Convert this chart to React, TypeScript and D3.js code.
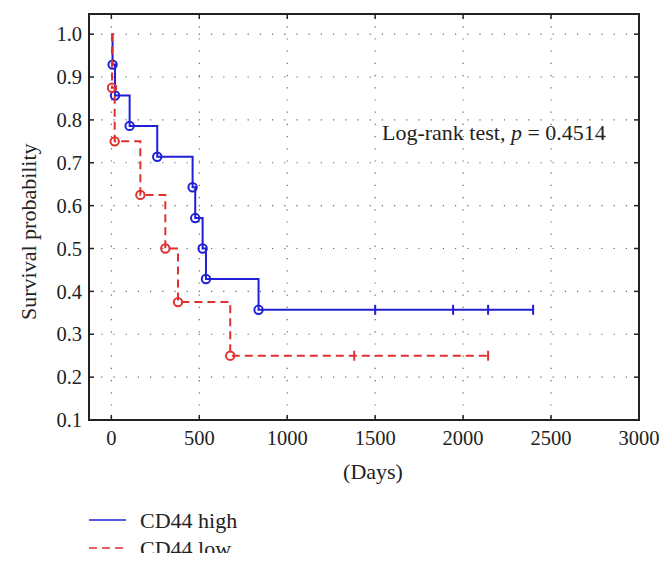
import React from 'react';
import * as d3 from 'd3';

// Kaplan-Meier steps
const highTimes = [0, 7, 21, 104, 261, 462, 477, 519, 538, 837];
const highSurv = [1.0, 0.929, 0.857, 0.786, 0.714, 0.643, 0.571, 0.5, 0.429, 0.357];
const highCensor = [1500, 1943, 2142, 2398];

const lowTimes = [0, 4, 19, 165, 307, 379, 676];
const lowSurv = [1.0, 0.875, 0.75, 0.625, 0.5, 0.375, 0.25];
const lowCensor = [1381, 2142];

const xTicks = [0, 500, 1000, 1500, 2000, 2500, 3000];
const yTicks = [0.1, 0.2, 0.3, 0.4, 0.5, 0.6, 0.7, 0.8, 0.9, 1.0];

const series = [
  { name: 'CD44 high', times: highTimes, surv: highSurv, censor: highCensor, color: '#1f1fd6', dash: null as string | null },
  { name: 'CD44 low', times: lowTimes, surv: lowSurv, censor: lowCensor, color: '#e03131', dash: '8,5' },
];

const W = 672;
const H = 569;
const left = 89;
const right = 639;
const top = 14;
const bottom = 420;
const font = '"Liberation Serif", "DejaVu Serif", serif';

const App: React.FC = () => {
  const x = d3.scaleLinear().domain([-127, 3000]).range([left, right]);
  const y = d3.scaleLinear().domain([0.1, 1.047]).range([bottom, top]);

  const line = d3
    .line<[number, number]>()
    .x(d => x(d[0]))
    .y(d => y(d[1]))
    .curve(d3.curveStepAfter);

  return (
    <svg
      width={W}
      height={H}
      style={{ position: 'absolute', left: 0, top: 0, background: '#fff' }}
      fontFamily={font}
    >
      {/* dotted grid */}
      {xTicks.slice(0, -1).map(t => (
        <line key={'gx' + t} x1={x(t)} x2={x(t)} y1={top} y2={bottom}
          stroke="#666" strokeWidth={1.2} strokeDasharray="1.2,11" />
      ))}
      {yTicks.slice(1).map(t => (
        <line key={'gy' + t} x1={left} x2={right} y1={y(t)} y2={y(t)}
          stroke="#666" strokeWidth={1.2} strokeDasharray="1.2,11" />
      ))}

      {/* curves */}
      {series.map(s => {
        const last = s.censor[s.censor.length - 1];
        const pts: [number, number][] = s.times.map((t, i) => [t, s.surv[i]] as [number, number]);
        pts.push([last, s.surv[s.surv.length - 1]]);
        const level = s.surv[s.surv.length - 1];
        return (
          <g key={s.name}>
            <path d={line(pts) || ''} fill="none" stroke={s.color} strokeWidth={2}
              strokeDasharray={s.dash || undefined} />
            {s.times.slice(1).map((t, i) => (
              <circle key={t} cx={x(t)} cy={y(s.surv[i + 1])} r={4.2}
                fill="none" stroke={s.color} strokeWidth={2} />
            ))}
            {s.censor.map(c => (
              <line key={c} x1={x(c)} x2={x(c)} y1={y(level) - 5} y2={y(level) + 5}
                stroke={s.color} strokeWidth={2} />
            ))}
          </g>
        );
      })}

      {/* frame and inward ticks */}
      <rect x={left} y={top} width={right - left} height={bottom - top}
        fill="none" stroke="#222" strokeWidth={2} />
      {xTicks.slice(0, -1).map(t => (
        <g key={'tx' + t} stroke="#222" strokeWidth={1.5}>
          <line x1={x(t)} x2={x(t)} y1={bottom} y2={bottom - 5} />
          <line x1={x(t)} x2={x(t)} y1={top} y2={top + 5} />
        </g>
      ))}
      {yTicks.slice(1).map(t => (
        <g key={'ty' + t} stroke="#222" strokeWidth={1.5}>
          <line x1={left} x2={left + 5} y1={y(t)} y2={y(t)} />
          <line x1={right} x2={right - 5} y1={y(t)} y2={y(t)} />
        </g>
      ))}

      {/* tick labels */}
      {xTicks.map(t => (
        <text key={'lx' + t} x={x(t)} y={445} textAnchor="middle" fontSize={20.5} fill="#222">
          {t}
        </text>
      ))}
      {yTicks.map(t => (
        <text key={'ly' + t} x={82} y={y(t)} dy="0.35em" textAnchor="end" fontSize={20.5} fill="#222">
          {t.toFixed(1)}
        </text>
      ))}

      {/* axis titles */}
      <text x={373} y={479} textAnchor="middle" fontSize={22} fill="#222">(Days)</text>
      <text transform={`translate(36, 320) rotate(-90)`} textAnchor="start" fontSize={22} fill="#222">
        Survival probability
      </text>

      <text x={382} y={140} fontSize={22} fill="#222">
        Log-rank test, <tspan fontStyle="italic">p</tspan> = 0.4514
      </text>

      {/* legend */}
      {series.map((s, i) => (
        <g key={'leg' + s.name} transform={`translate(89, ${520 + i * 28})`}>
          <line x1={0} x2={37} y1={0} y2={0} stroke={s.color} strokeWidth={1.5}
            strokeDasharray={s.dash || undefined} />
          <text x={51} y={8} fontSize={22} fill="#222">{s.name}</text>
        </g>
      ))}
      {/* the source image is cropped through the last legend row */}
      <rect x={0} y={553} width={W} height={H - 553} fill="#fff" />
    </svg>
  );
};

export default App;
